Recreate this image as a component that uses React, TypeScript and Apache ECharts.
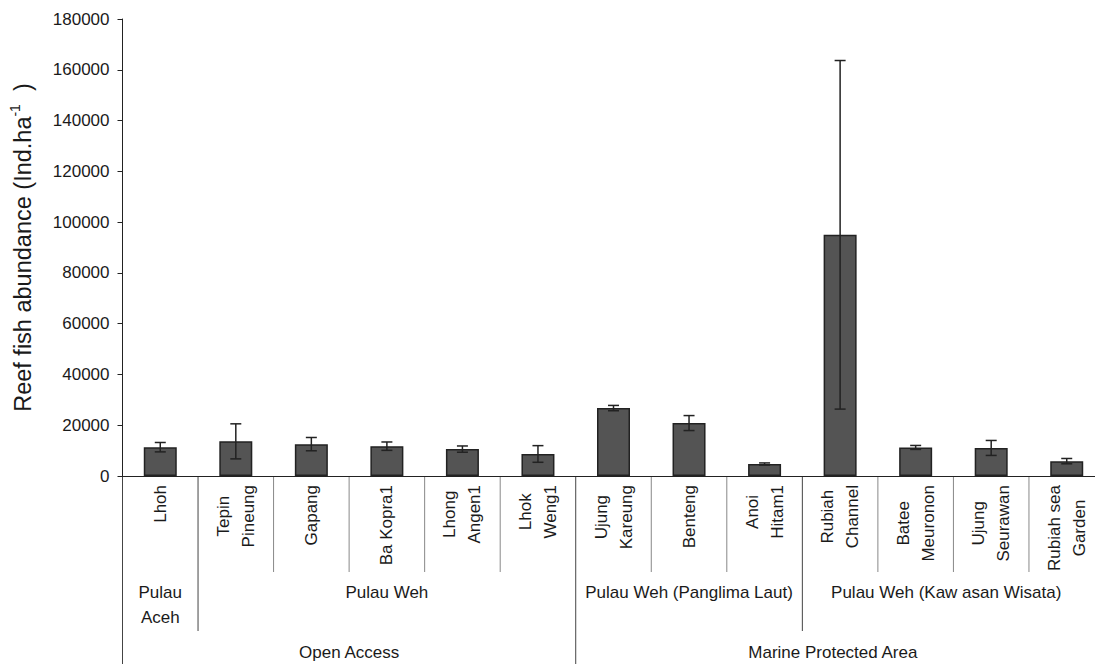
import React, { useEffect, useRef } from 'react';
import * as echarts from 'echarts';

const categories = [
  'Lhoh',
  'Tepin\nPineung',
  'Gapang',
  'Ba Kopra1',
  'Lhong\nAngen1',
  'Lhok\nWeng1',
  'Ujung\nKareung',
  'Benteng',
  'Anoi\nHitam1',
  'Rubiah\nChannel',
  'Batee\nMeuronon',
  'Ujung\nSeurawan',
  'Rubiah sea\nGarden',
];
const means = [11350, 13650, 12550, 11750, 10600, 8680, 26750, 20850, 4730, 95000, 11250, 11050, 5850];
const errors = [1850, 6900, 2620, 1650, 1230, 3280, 1050, 2950, 420, 68650, 780, 2950, 1050];

const yMin = 0;
const yMax = 180000;
const yInterval = 20000;

const siteGroups = [
  { name: 'Pulau\nAceh', from: 0, to: 0 },
  { name: 'Pulau Weh', from: 1, to: 5 },
  { name: 'Pulau Weh (Panglima Laut)', from: 6, to: 8 },
  { name: 'Pulau Weh (Kaw asan Wisata)', from: 9, to: 12 },
];
const statusGroups = [
  { name: 'Open Access', from: 0, to: 5 },
  { name: 'Marine Protected Area', from: 6, to: 12 },
];

const FONT = '"Liberation Sans", Arial, Helvetica, sans-serif';
const TXT = '#1a1a1a';
const W = 1095;
const H = 664;

export default function App() {
  const ref = useRef<HTMLDivElement>(null);
  useEffect(() => {
    if (!ref.current) return;
    const chart = echarts.init(ref.current, undefined, { renderer: 'svg' });
    chart.setOption({
      animation: false,
      backgroundColor: '#ffffff',
      grid: {
        left: 122.5,
        top: 19,
        width: 982,
        height: 457,
        containLabel: false,
        outerBoundsMode: 'none',
      },
      xAxis: {
        type: 'category',
        data: categories,
        boundaryGap: true,
        axisLine: { show: true, lineStyle: { color: '#222', width: 1 } },
        axisTick: { show: false },
        axisLabel: {
          interval: 0,
          rotate: 90,
          margin: 9,
          color: TXT,
          fontFamily: FONT,
          fontSize: 17,
          formatter: (v: string) => v.split('\n').map((s) => `{a|${s}}`).join('\n'),
          rich: {
            a: { align: 'center', fontSize: 17, fontFamily: FONT, color: TXT, lineHeight: 25 },
          },
        },
      },
      yAxis: {
        type: 'value',
        min: yMin,
        max: yMax,
        interval: yInterval,
        name: '{a|Reef fish abundance (Ind.ha}{s|-1}{a|  )}',
        nameLocation: 'middle',
        nameGap: 85,
        nameTextStyle: {
          rich: {
            a: { fontSize: 23.5, fontFamily: FONT, color: TXT, lineHeight: 30 },
            s: { fontSize: 14, fontFamily: FONT, color: TXT, verticalAlign: 'top', lineHeight: 30 },
          },
        },
        axisLine: { show: true, lineStyle: { color: '#222', width: 1 } },
        axisTick: { show: true, length: 5, lineStyle: { color: '#222' } },
        splitLine: { show: false },
        axisLabel: {
          margin: 13,
          color: TXT,
          fontFamily: FONT,
          fontSize: 17,
          formatter: (v: number) => String(v),
        },
      },
      series: [
        {
          type: 'bar',
          data: means,
          barWidth: 33,
          itemStyle: { color: '#545454', borderColor: '#222', borderWidth: 1.5 },
          z: 2,
        },
        {
          type: 'custom',
          z: 3,
          data: categories.map((_, i) => [i, means[i] - errors[i], means[i] + errors[i]]),
          encode: { x: 0, y: [1, 2] },
          renderItem: (params: any, api: any) => {
            const x = api.coord([api.value(0), 0])[0];
            const lo = api.coord([api.value(0), api.value(1)])[1];
            const hi = api.coord([api.value(0), api.value(2)])[1];
            const w = 11;
            const st = { stroke: '#222', lineWidth: 1.5 };
            return {
              type: 'group',
              children: [
                { type: 'line', shape: { x1: x, y1: hi, x2: x, y2: lo }, style: st },
                { type: 'line', shape: { x1: x - w / 2, y1: hi, x2: x + w / 2, y2: hi }, style: st },
                { type: 'line', shape: { x1: x - w / 2, y1: lo, x2: x + w / 2, y2: lo }, style: st },
              ],
            };
          },
        },
      ],
    });

    const c0 = chart.convertToPixel({ xAxisIndex: 0 }, 0) as number;
    const c1 = chart.convertToPixel({ xAxisIndex: 0 }, 1) as number;
    const half = (c1 - c0) / 2;
    const y0 = chart.convertToPixel({ yAxisIndex: 0 }, 0) as number;
    const bnd = (i: number) => c0 + (2 * i - 1) * half;

    const siteStarts = new Set(siteGroups.map((g) => g.from));
    const statusStarts = new Set(statusGroups.map((g) => g.from));
    const graphics: any[] = [];
    const line = (x: number, yEnd: number, color: string) =>
      graphics.push({
        type: 'line',
        silent: true,
        shape: { x1: x, y1: y0, x2: x, y2: yEnd },
        style: { stroke: color, lineWidth: 1 },
      });
    for (let i = 0; i <= categories.length; i++) {
      const x = bnd(i);
      if (statusStarts.has(i)) line(x, H, '#444');
      else if (siteStarts.has(i)) line(x, y0 + 155, '#444');
      else line(x, y0 + 96, '#888');
    }
    const text = (t: string, x: number, y: number) =>
      graphics.push({
        type: 'text',
        silent: true,
        x,
        y,
        style: {
          text: t,
          fill: TXT,
          fontSize: 17,
          fontFamily: FONT,
          align: 'center',
          verticalAlign: 'top',
          lineHeight: 25,
        },
      });
    siteGroups.forEach((g) => {
      const xa = bnd(g.from);
      const xb = Math.min(bnd(g.to + 1), W - 5);
      text(g.name, (xa + xb) / 2, y0 + 104);
    });
    statusGroups.forEach((g) => {
      const xa = bnd(g.from);
      const xb = Math.min(bnd(g.to + 1), W - 5);
      text(g.name, (xa + xb) / 2, y0 + 164);
    });
    chart.setOption({ graphic: graphics });

    return () => chart.dispose();
  }, []);
  return (
    <div
      ref={ref}
      style={{ position: 'absolute', left: 0, top: 0, width: W, height: H, overflow: 'hidden' }}
    />
  );
}
